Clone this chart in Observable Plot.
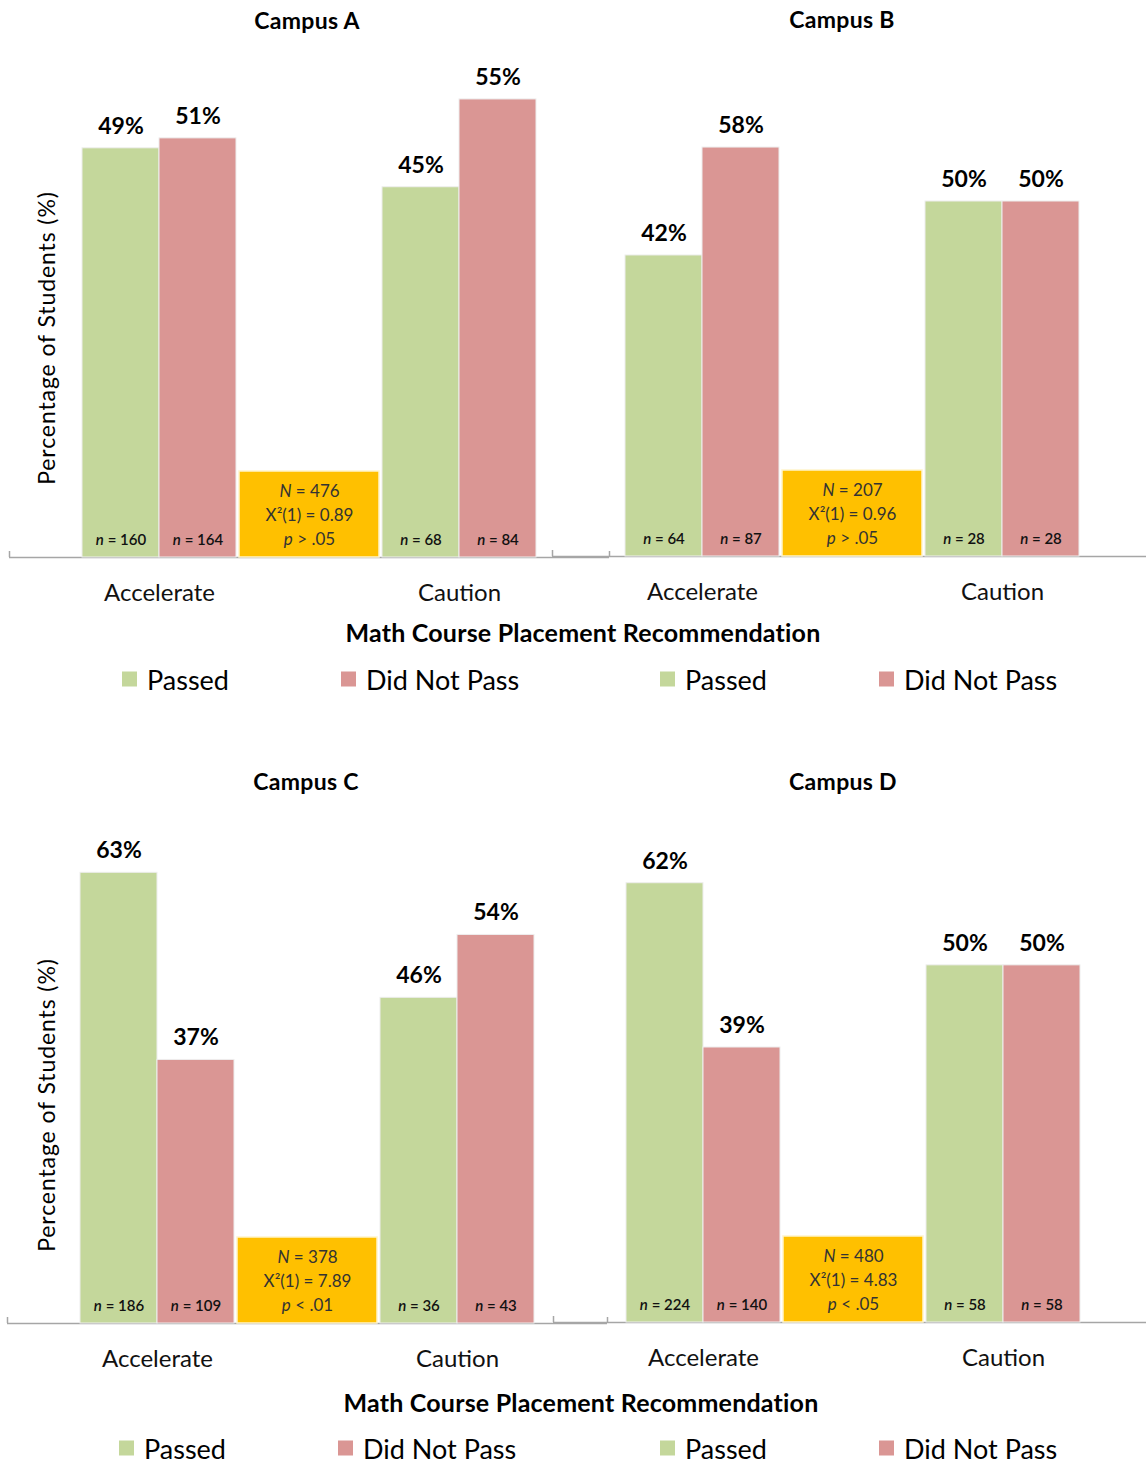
<!DOCTYPE html>
<html>
<head>
<meta charset="utf-8">
<script src="https://cdn.jsdelivr.net/npm/d3@7"></script>
<script src="https://cdn.jsdelivr.net/npm/@observablehq/plot@0.6"></script>
<style>
  html, body { margin: 0; padding: 0; background: #fff; overflow: hidden; }
  body { width: 1146px; height: 1462px; position: relative; font-family: Lato, "Open Sans", sans-serif; color: #000; }
  .abs { position: absolute; }
  .title { font-weight: 700; font-size: 23px; letter-spacing: 0.3px; transform: translate(-50%, -50%); white-space: nowrap; }
  .xtitle { font-weight: 700; font-size: 25px; letter-spacing: 0.2px; transform: translate(-50%, -50%); white-space: nowrap; }
  .ytitle { font-size: 23px; letter-spacing: 0.9px; transform: translate(-50%, -50%) rotate(-90deg); white-space: nowrap; }
  .legend-item { position: absolute; display: flex; align-items: center; font-size: 27px; white-space: nowrap; transform: translateY(-50%); }
  .swatch { width: 15px; height: 15px; margin-right: 10px; }
</style>
</head>
<body>
<script>
// ---------- DATA ----------
const categories = ["Accelerate", "Caution"];
const seriesNames = ["Passed", "Did Not Pass"];
const campusNames = ["Campus A", "Campus B", "Campus C", "Campus D"];
const passedPct = [[49.4, 44.7], [42.4, 50.0], [63.1, 45.6], [61.5, 50.0]];
const notPassedPct = [[50.6, 55.3], [57.6, 50.0], [36.9, 54.4], [38.5, 50.0]];
const passedN = [[160, 68], [64, 28], [186, 36], [224, 58]];
const notPassedN = [[164, 84], [87, 28], [109, 43], [140, 58]];
const totalN = [476, 207, 378, 480];
const chiSquare = ["0.89", "0.96", "7.89", "4.83"];
const pValue = ["p > .05", "p > .05", "p < .01", "p < .05"];
const yMax = [60, 70, 70, 70];
const xTitle = "Math Course Placement Recommendation";
const yTitle = "Percentage of Students (%)";

// ---------- STYLE / LAYOUT ----------
const colors = {"Passed": "#C4D79B", "Did Not Pass": "#DA9694"};
const boxColor = "#FFC000";
const panels = [
  {left: 0,   top: 0,   ml: 9,  mr: 11, mt: 60, mb: 63, titleX: 307, titleY: 20},
  {left: 540, top: 0,   ml: 12, mr: 8,  mt: 59, mb: 64, titleX: 842, titleY: 19},
  {left: 0,   top: 760, ml: 7,  mr: 13, mt: 63, mb: 57, titleX: 306, titleY: 781},
  {left: 540, top: 760, ml: 13, mr: 7,  mt: 62, mb: 58, titleX: 843, titleY: 781}
];
const W = 620, H = 620;
const barFrac = 77 / 300;     // bar width in category units
const boxHalf = 70 / 300;     // half width of stats box in category units
const boxPx = 86, tickPx = 6;

function addDiv(cls, text, x, y, extra) {
  const d = document.createElement("div");
  d.className = "abs " + cls;
  d.textContent = text;
  d.style.left = x + "px";
  d.style.top = y + "px";
  if (extra) Object.assign(d.style, extra);
  document.body.appendChild(d);
  return d;
}

function italicize(svg) {
  svg.querySelectorAll("text, tspan").forEach(el => {
    if (el.children.length) return;
    const m = /^([Nnp])( .*)$/.exec(el.textContent);
    if (!m) return;
    el.textContent = "";
    const a = document.createElementNS("http://www.w3.org/2000/svg", "tspan");
    a.setAttribute("font-style", "italic");
    a.textContent = m[1];
    const b = document.createElementNS("http://www.w3.org/2000/svg", "tspan");
    b.textContent = m[2];
    el.appendChild(a); el.appendChild(b);
  });
}

campusNames.forEach((name, ci) => {
  const L = panels[ci];
  const plotH = H - L.mt - L.mb;
  const ym = yMax[ci];
  const bars = [];
  categories.forEach((cat, i) => {
    bars.push({cat, i, series: "Passed", pct: passedPct[ci][i], n: passedN[ci][i], side: -1});
    bars.push({cat, i, series: "Did Not Pass", pct: notPassedPct[ci][i], n: notPassedN[ci][i], side: 1});
  });
  const x1 = d => d.i + 0.5 + (d.side < 0 ? -barFrac : 0);
  const x2 = d => d.i + 0.5 + (d.side < 0 ? 0 : barFrac);
  const xc = d => d.i + 0.5 + d.side * barFrac / 2;
  const stats = [{n: totalN[ci], chi: chiSquare[ci], p: pValue[ci], at: 1}];
  const boxTop = ym * boxPx / plotH;
  const tickTop = ym * tickPx / plotH;

  const plot = Plot.plot({
    width: W, height: H,
    marginLeft: L.ml, marginRight: L.mr, marginTop: L.mt, marginBottom: L.mb,
    x: {type: "linear", domain: [0, categories.length], axis: null},
    y: {domain: [0, ym], axis: null},
    style: {background: "transparent", overflow: "visible", fontFamily: "Lato, 'Open Sans', sans-serif"},
    marks: [
      Plot.ruleY([0], {stroke: "#a6a6a6", strokeWidth: 1.5}),
      Plot.ruleX(d3.range(categories.length + 1), {x: d => d, y1: 0, y2: tickTop, stroke: "#a6a6a6", strokeWidth: 1.5}),
      Plot.rect(bars, {x1, x2, y1: 0, y2: "pct", fill: d => colors[d.series], stroke: "#eeeeee", strokeWidth: 1}),
      Plot.rect(stats, {x1: d => d.at - boxHalf, x2: d => d.at + boxHalf, y1: 0, y2: boxTop, fill: boxColor, stroke: "#fff5cc", strokeWidth: 1.5}),
      Plot.text(stats, {x: "at", y: 0, dy: -boxPx / 2 - 1, text: d => `N = ${d.n}\nX²(1) = ${d.chi}\n${d.p}`, lineHeight: 1.4, lineAnchor: "middle", fontSize: 17, fill: "#333"}),
      Plot.text(bars, {x: xc, y: "pct", dy: -22, text: d => `${Math.round(d.pct)}%`, lineAnchor: "middle", fontSize: 23, fontWeight: 700, fill: "#000"}),
      Plot.text(bars, {x: xc, y: 0, dy: -17, text: d => `n = ${d.n}`, lineAnchor: "middle", fontSize: 15, fontWeight: 600, fill: "#111"}),
      Plot.text(categories, {x: (d, i) => i + 0.5, y: 0, dy: 36, text: d => d, lineAnchor: "middle", fontSize: 24, fill: "#111"})
    ]
  });
  italicize(plot);
  const wrap = document.createElement("div");
  wrap.className = "abs";
  wrap.style.left = L.left + "px";
  wrap.style.top = L.top + "px";
  wrap.style.width = W + "px";
  wrap.style.height = H + "px";
  wrap.appendChild(plot);
  document.body.appendChild(wrap);
  addDiv("title", name, L.titleX, L.titleY);
});

// axis titles
addDiv("xtitle", xTitle, 583, 632);
addDiv("xtitle", xTitle, 581, 1402);
addDiv("ytitle", yTitle, 46, 338);
addDiv("ytitle", yTitle, 46, 1105);

// legends
const legendRows = [
  {y: 679, items: [[122, "Passed"], [341, "Did Not Pass"], [660, "Passed"], [879, "Did Not Pass"]]},
  {y: 1448, items: [[119, "Passed"], [338, "Did Not Pass"], [660, "Passed"], [879, "Did Not Pass"]]}
];
legendRows.forEach(row => {
  row.items.forEach(([x, s]) => {
    const item = document.createElement("div");
    item.className = "legend-item";
    item.style.left = x + "px";
    item.style.top = row.y + "px";
    const sw = document.createElement("span");
    sw.className = "swatch";
    sw.style.background = colors[s];
    const t = document.createElement("span");
    t.textContent = s;
    item.appendChild(sw); item.appendChild(t);
    document.body.appendChild(item);
  });
});
</script>
</body>
</html>
